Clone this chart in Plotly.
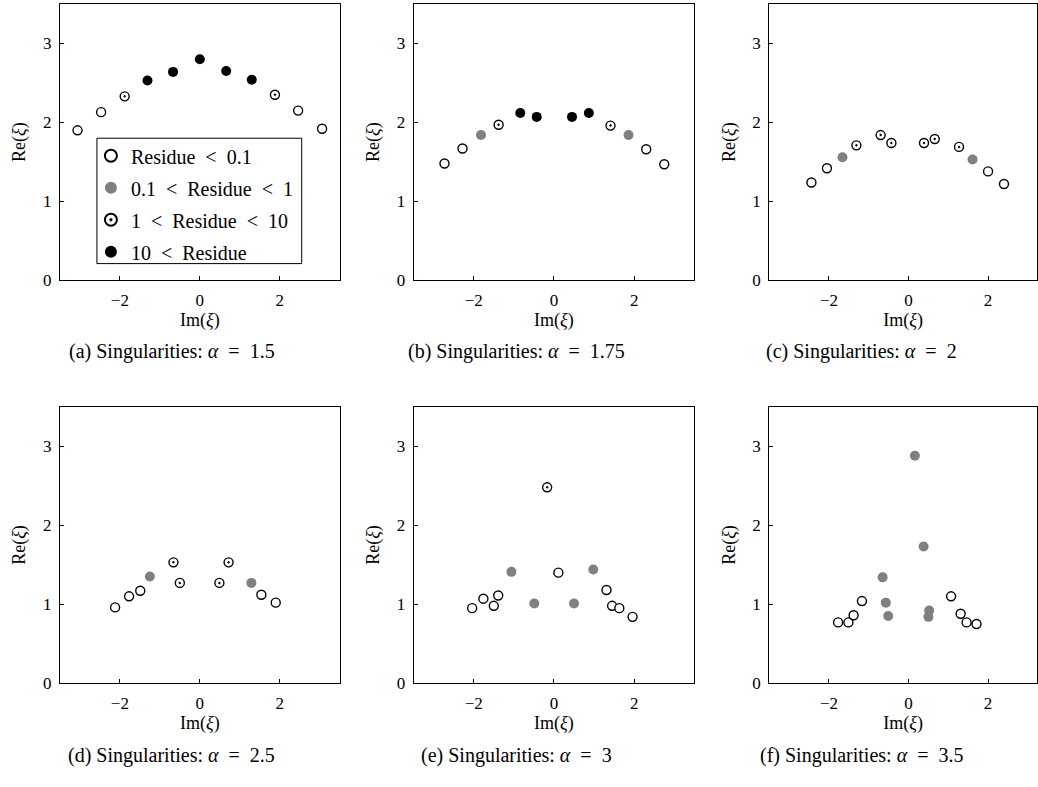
import plotly.graph_objects as go

# ---------------- data ----------------
SP = "\u2002"  # math-like spacing around relations
CATEGORIES = ["Residue" + SP + "&lt;" + SP + "0.1",
              "0.1" + SP + "&lt;" + SP + "Residue" + SP + "&lt;" + SP + "1",
              "1" + SP + "&lt;" + SP + "Residue" + SP + "&lt;" + SP + "10",
              "10" + SP + "&lt;" + SP + "Residue"]
X_TICKS = [-2, 0, 2]
Y_TICKS = [0, 1, 2, 3]
ALPHAS = ["1.5", "1.75", "2", "2.5", "3", "3.5"]
LETTERS = ["a", "b", "c", "d", "e", "f"]

# class codes: 0 -> Residue<0.1, 1 -> 0.1<Residue<1, 2 -> 1<Residue<10, 3 -> 10<Residue
A_IM = [-3.06, -2.47, -1.88, -1.31, -0.67, 0.00, 0.66, 1.30, 1.88, 2.46, 3.06]
A_RE = [1.90, 2.13, 2.33, 2.53, 2.64, 2.80, 2.65, 2.54, 2.35, 2.15, 1.92]
A_CLS = [0, 0, 2, 3, 3, 3, 3, 3, 2, 0, 0]

B_IM = [-2.73, -2.28, -1.82, -1.38, -0.84, -0.43, 0.45, 0.87, 1.41, 1.86, 2.30, 2.75]
B_RE = [1.48, 1.67, 1.84, 1.97, 2.12, 2.07, 2.07, 2.12, 1.96, 1.84, 1.66, 1.47]
B_CLS = [0, 0, 1, 2, 3, 3, 3, 3, 2, 1, 0, 0]

C_IM = [-2.44, -2.05, -1.66, -1.31, -0.70, -0.43, 0.39, 0.66, 1.27, 1.61, 2.00, 2.40]
C_RE = [1.24, 1.42, 1.56, 1.71, 1.84, 1.74, 1.74, 1.79, 1.69, 1.53, 1.38, 1.22]
C_CLS = [0, 0, 1, 2, 2, 2, 2, 2, 2, 1, 0, 0]

D_IM = [-2.12, -1.77, -1.49, -1.25, -0.66, -0.50, 0.49, 0.72, 1.29, 1.54, 1.90]
D_RE = [0.96, 1.10, 1.17, 1.35, 1.53, 1.27, 1.27, 1.53, 1.27, 1.12, 1.02]
D_CLS = [0, 0, 0, 1, 2, 2, 2, 2, 1, 0, 0]

E_IM = [-2.04, -1.76, -1.50, -1.39, -1.06, -0.49, -0.17, 0.11, 0.50, 0.98, 1.31, 1.45, 1.63, 1.96]
E_RE = [0.95, 1.07, 0.98, 1.11, 1.41, 1.01, 2.48, 1.40, 1.01, 1.44, 1.18, 0.98, 0.95, 0.84]
E_CLS = [0, 0, 0, 0, 1, 1, 2, 0, 1, 1, 0, 0, 0, 0]

F_IM = [-1.77, -1.51, -1.38, -1.17, -0.65, -0.57, -0.51, 0.16, 0.38, 0.50, 0.52, 1.07, 1.31, 1.46, 1.71]
F_RE = [0.77, 0.77, 0.86, 1.04, 1.34, 1.02, 0.85, 2.88, 1.73, 0.84, 0.92, 1.10, 0.88, 0.77, 0.75]
F_CLS = [0, 0, 0, 0, 1, 1, 1, 1, 1, 1, 1, 0, 0, 0, 0]

PANELS = [(A_IM, A_RE, A_CLS), (B_IM, B_RE, B_CLS), (C_IM, C_RE, C_CLS),
          (D_IM, D_RE, D_CLS), (E_IM, E_RE, E_CLS), (F_IM, F_RE, F_CLS)]

# ---------------- styling ----------------
W, H = 1038, 787
FONT = "Liberation Serif, DejaVu Serif, serif"
STYLES = [
    dict(symbol="circle", color="white", line=dict(color="black", width=1.4)),
    dict(symbol="circle", color="#808080", line=dict(color="#808080", width=0)),
    dict(symbol="circle-dot", color="white", line=dict(color="black", width=1.4)),
    dict(symbol="circle", color="black", line=dict(color="black", width=0)),
]
SIZES = [9, 10, 9, 10]

# panel boxes in pixels: (left, right), (top, bottom)
COL_PX = [(60, 340), (414, 695), (770, 1038)]
ROW_PX = [(4, 284), (412, 692)]
X_RANGES = [[-3.5, 3.5], [-3.5, 3.5], [-3.5, 3.23]]
CAP_X = [172, 517, 862]
CAP_Y = [356, 765]

fig = go.Figure()
annotations = []

for i, (im, re_, cls) in enumerate(PANELS):
    r, c = divmod(i, 3)
    ax = "" if i == 0 else str(i + 1)
    xa, ya = "x" + ax, "y" + ax
    for k in range(4):
        xs = [im[j] for j in range(len(im)) if cls[j] == k]
        ys = [re_[j] for j in range(len(im)) if cls[j] == k]
        if not xs:
            if i != 0:
                continue
            xs, ys = [None], [None]
        st = STYLES[k]
        fig.add_trace(go.Scatter(
            x=xs, y=ys, mode="markers", xaxis=xa, yaxis=ya,
            name=CATEGORIES[k], legendgroup="g%d" % k, showlegend=(i == 0),
            marker=dict(size=SIZES[k], symbol=st["symbol"], color=st["color"], line=st["line"]),
        ))
    l, rr = COL_PX[c]
    t, b = ROW_PX[r]
    xdom = [l / W, rr / W]
    ydom = [1 - b / H, 1 - t / H]
    axis_common = dict(showline=True, linecolor="black", linewidth=1, mirror=True,
                       ticks="inside", ticklen=4, tickcolor="black", showgrid=False,
                       zeroline=False, tickfont=dict(family=FONT, size=17, color="black"),
                       title_font=dict(family=FONT, size=18, color="black"),
                       ticklabelstandoff=4)
    fig.layout["xaxis" + ax] = dict(domain=xdom, range=X_RANGES[c], anchor=ya,
                                    tickvals=X_TICKS, title=dict(text="Im(<i>ξ</i>)", standoff=4),
                                    **axis_common)
    fig.layout["yaxis" + ax] = dict(domain=ydom, range=[0, 3.5], anchor=xa,
                                    tickvals=Y_TICKS, title=dict(text="Re(<i>ξ</i>)", standoff=12),
                                    **axis_common)
    annotations.append(dict(
        text="(%s) Singularities: <i>α</i>%s=%s%s" % (LETTERS[i], SP, SP, ALPHAS[i]),
        xref="paper", yref="paper", x=CAP_X[c] / W, y=1 - CAP_Y[r] / H,
        xanchor="center", yanchor="middle", showarrow=False,
        font=dict(family=FONT, size=20, color="black")))

# legend frame
LEG_BOX = (97, 140, 302, 267)
fig.add_shape(type="rect", xref="paper", yref="paper",
              x0=LEG_BOX[0] / W, x1=LEG_BOX[2] / W,
              y0=1 - LEG_BOX[3] / H, y1=1 - LEG_BOX[1] / H,
              line=dict(color="black", width=1), fillcolor="white", layer="above")

fig.update_layout(
    width=W, height=H, margin=dict(l=0, r=0, t=0, b=0),
    paper_bgcolor="white", plot_bgcolor="white",
    annotations=annotations,
    showlegend=True,
    legend=dict(x=91 / W, y=1 - 138 / H, xanchor="left", yanchor="top",
                bgcolor="rgba(0,0,0,0)", borderwidth=0,
                font=dict(family=FONT, size=20, color="black"),
                tracegroupgap=3, itemsizing="constant"),
)

fig.write_html(
    "out.html",
    config={"displayModeBar": False},
    post_script="document.body.style.margin='0px';"
                "document.body.style.overflow='hidden';"
                "document.documentElement.style.overflow='hidden';",
)
